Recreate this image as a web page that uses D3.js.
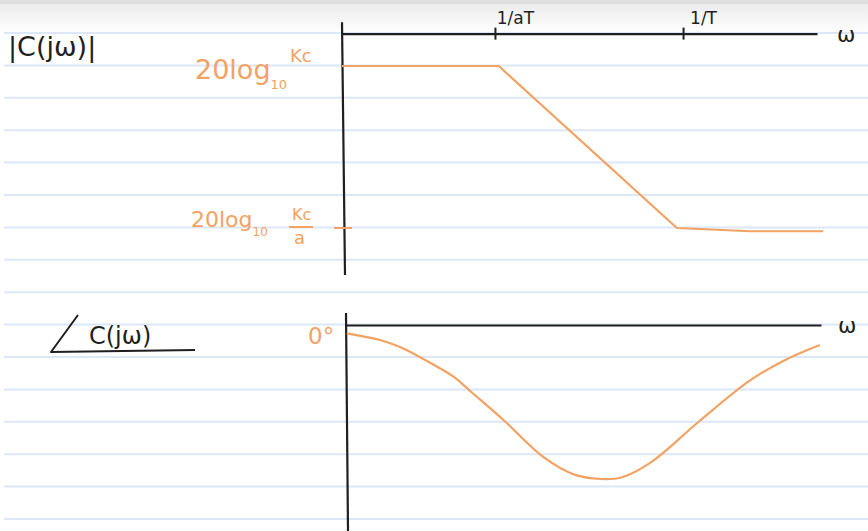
<!DOCTYPE html>
<html>
<head>
<meta charset="utf-8">
<script src="https://cdn.jsdelivr.net/npm/d3@7"></script>
<style>
  body { margin: 0; background: #fff; }
  svg { display: block; }
  text { font-family: "DejaVu Sans", sans-serif; }
</style>
</head>
<body>
<svg id="chart" width="868" height="531"></svg>
<script>
// log-frequency positions (arbitrary units, axis runs 0..10)
const cornerLabels = ['1/aT', '1/T'];
const cornerW = [3.22, 7.18];

// magnitude asymptote: 1 = 20log10 Kc, 0 = 20log10 Kc/a
const magW = [0, 3.3, 7.05, 8.6, 10.13];
const magV = [1.0, 1.0, 0.0, -0.02, -0.02];

// phase sketch: 0 = 0 deg, -1 = lowest point of the dip
const phW = [0.1, 0.8, 1.22, 1.94, 2.36, 2.74, 3.41, 4.25, 4.88, 5.45, 5.88, 6.51, 7.54, 8.59, 9.31, 10.06];
const phV = [-0.054, -0.097, -0.143, -0.26, -0.338, -0.44, -0.62, -0.86, -0.97, -1.0, -0.99, -0.89, -0.62, -0.36, -0.23, -0.13];

const svg = d3.select('#chart');
const orange = '#f2a263';
const ink = '#1f1f1f';

// paper: grey top edge + ruled lines
const defs = svg.append('defs');
const grad = defs.append('linearGradient').attr('id', 'top').attr('x1', 0).attr('x2', 0).attr('y1', 0).attr('y2', 1);
grad.append('stop').attr('offset', '0%').attr('stop-color', '#e9e9e9');
grad.append('stop').attr('offset', '100%').attr('stop-color', '#ffffff');
svg.append('rect').attr('width', 868).attr('height', 34).attr('fill', 'url(#top)');
svg.append('rect').attr('width', 868).attr('height', 4).attr('fill', '#dedede');

const rules = d3.range(16).map(i => 33 + i * 32.4);
svg.selectAll('.rule')
    .data(rules)
    .enter()
    .append('line')
    .attr('x1', 4).attr('x2', 868)
    .attr('y1', d => d).attr('y2', d => d)
    .attr('stroke', '#dce7f9')
    .attr('stroke-width', 2);

// scales
const x = d3.scaleLinear().domain([0, 10]).range([342, 817]);
const yMag = d3.scaleLinear().domain([0, 1]).range([228, 66]);
const yPh = d3.scaleLinear().domain([0, -1]).range([325, 479]);

// ---- magnitude plot ----
const magAxis = d3.axisTop(x)
    .tickValues(cornerW)
    .tickFormat((d, i) => cornerLabels[i])
    .tickSizeOuter(0);

const gTop = svg.append('g')
    .attr('transform', 'translate(0,' + yMag(1.2) + ')')
    .call(magAxis);
gTop.select('.domain').attr('stroke', ink).attr('stroke-width', 2.2);
gTop.selectAll('.tick line').attr('y1', 6).attr('y2', -6).attr('stroke', ink).attr('stroke-width', 2);
gTop.selectAll('.tick text')
    .attr('x', 20).attr('y', -10)
    .attr('font-size', 17).attr('fill', ink)
    .style('font-family', '"DejaVu Sans", sans-serif');

svg.append('line')
    .attr('x1', x(0)).attr('x2', x(0) + 3)
    .attr('y1', yMag(1.27)).attr('y2', yMag(-0.29))
    .attr('stroke', ink).attr('stroke-width', 2.2);

svg.append('text')
    .attr('x', 837).attr('y', yMag(1.2) + 8)
    .attr('font-size', 22).attr('fill', ink)
    .text('ω');

// tick for 20log Kc/a
svg.append('line')
    .attr('x1', x(0) - 8).attr('x2', x(0) + 10)
    .attr('y1', yMag(0)).attr('y2', yMag(0))
    .attr('stroke', orange).attr('stroke-width', 2);

const magLine = d3.line()
    .x((d, i) => x(magW[i]))
    .y(d => yMag(d));

svg.append('path')
    .datum(magV)
    .attr('d', magLine)
    .attr('fill', 'none')
    .attr('stroke', orange)
    .attr('stroke-width', 2.2)
    .attr('stroke-linejoin', 'round');

// labels
svg.append('text')
    .attr('x', 8).attr('y', 56)
    .attr('font-size', 27).attr('fill', ink)
    .text('|C(jω)|');

const l1 = svg.append('text').attr('fill', orange).attr('x', 195).attr('y', 79).attr('font-size', 27);
l1.append('tspan').text('20log');
l1.append('tspan').attr('font-size', 13).attr('dy', 10).text('10');
l1.append('tspan').attr('font-size', 18).attr('dx', 3).attr('dy', -27).text('Kc');

const l2 = svg.append('text').attr('fill', orange).attr('x', 191).attr('y', 227).attr('font-size', 22);
l2.append('tspan').text('20log');
l2.append('tspan').attr('font-size', 12).attr('dy', 9).text('10');
svg.append('text').attr('fill', orange).attr('x', 292).attr('y', 220).attr('font-size', 16).text('Kc');
svg.append('line')
    .attr('x1', 289).attr('x2', 313).attr('y1', 227).attr('y2', 227)
    .attr('stroke', orange).attr('stroke-width', 2);
svg.append('text').attr('fill', orange).attr('x', 294).attr('y', 244).attr('font-size', 18).text('a');

// ---- phase plot ----
const phAxis = d3.axisBottom(x).tickValues([]).tickSizeOuter(0);
const gBot = svg.append('g')
    .attr('transform', 'translate(4,' + yPh(0) + ')')
    .call(phAxis);
gBot.select('.domain').attr('stroke', ink).attr('stroke-width', 2.2);

svg.append('line')
    .attr('x1', x(0) + 4).attr('x2', x(0) + 6)
    .attr('y1', yPh(0) - 12).attr('y2', 531)
    .attr('stroke', ink).attr('stroke-width', 2.2);

svg.append('text')
    .attr('x', 838).attr('y', yPh(0) + 8)
    .attr('font-size', 22).attr('fill', ink)
    .text('ω');

svg.append('text')
    .attr('x', 308).attr('y', 344)
    .attr('font-size', 23).attr('fill', orange)
    .text('0°');

// angle sign drawn by hand, then the text
svg.append('path')
    .attr('d', 'M78,315 L51,352 L195,350')
    .attr('fill', 'none').attr('stroke', ink).attr('stroke-width', 2)
    .attr('stroke-linejoin', 'round');
svg.append('text')
    .attr('x', 89).attr('y', 344)
    .attr('font-size', 24).attr('fill', ink)
    .text('C(jω)');

const phLine = d3.line()
    .x((d, i) => x(phW[i]))
    .y(d => yPh(d))
    .curve(d3.curveCatmullRom.alpha(0.5));

svg.append('path')
    .datum(phV)
    .attr('d', phLine)
    .attr('fill', 'none')
    .attr('stroke', orange)
    .attr('stroke-width', 2.2);
</script>
</body>
</html>
